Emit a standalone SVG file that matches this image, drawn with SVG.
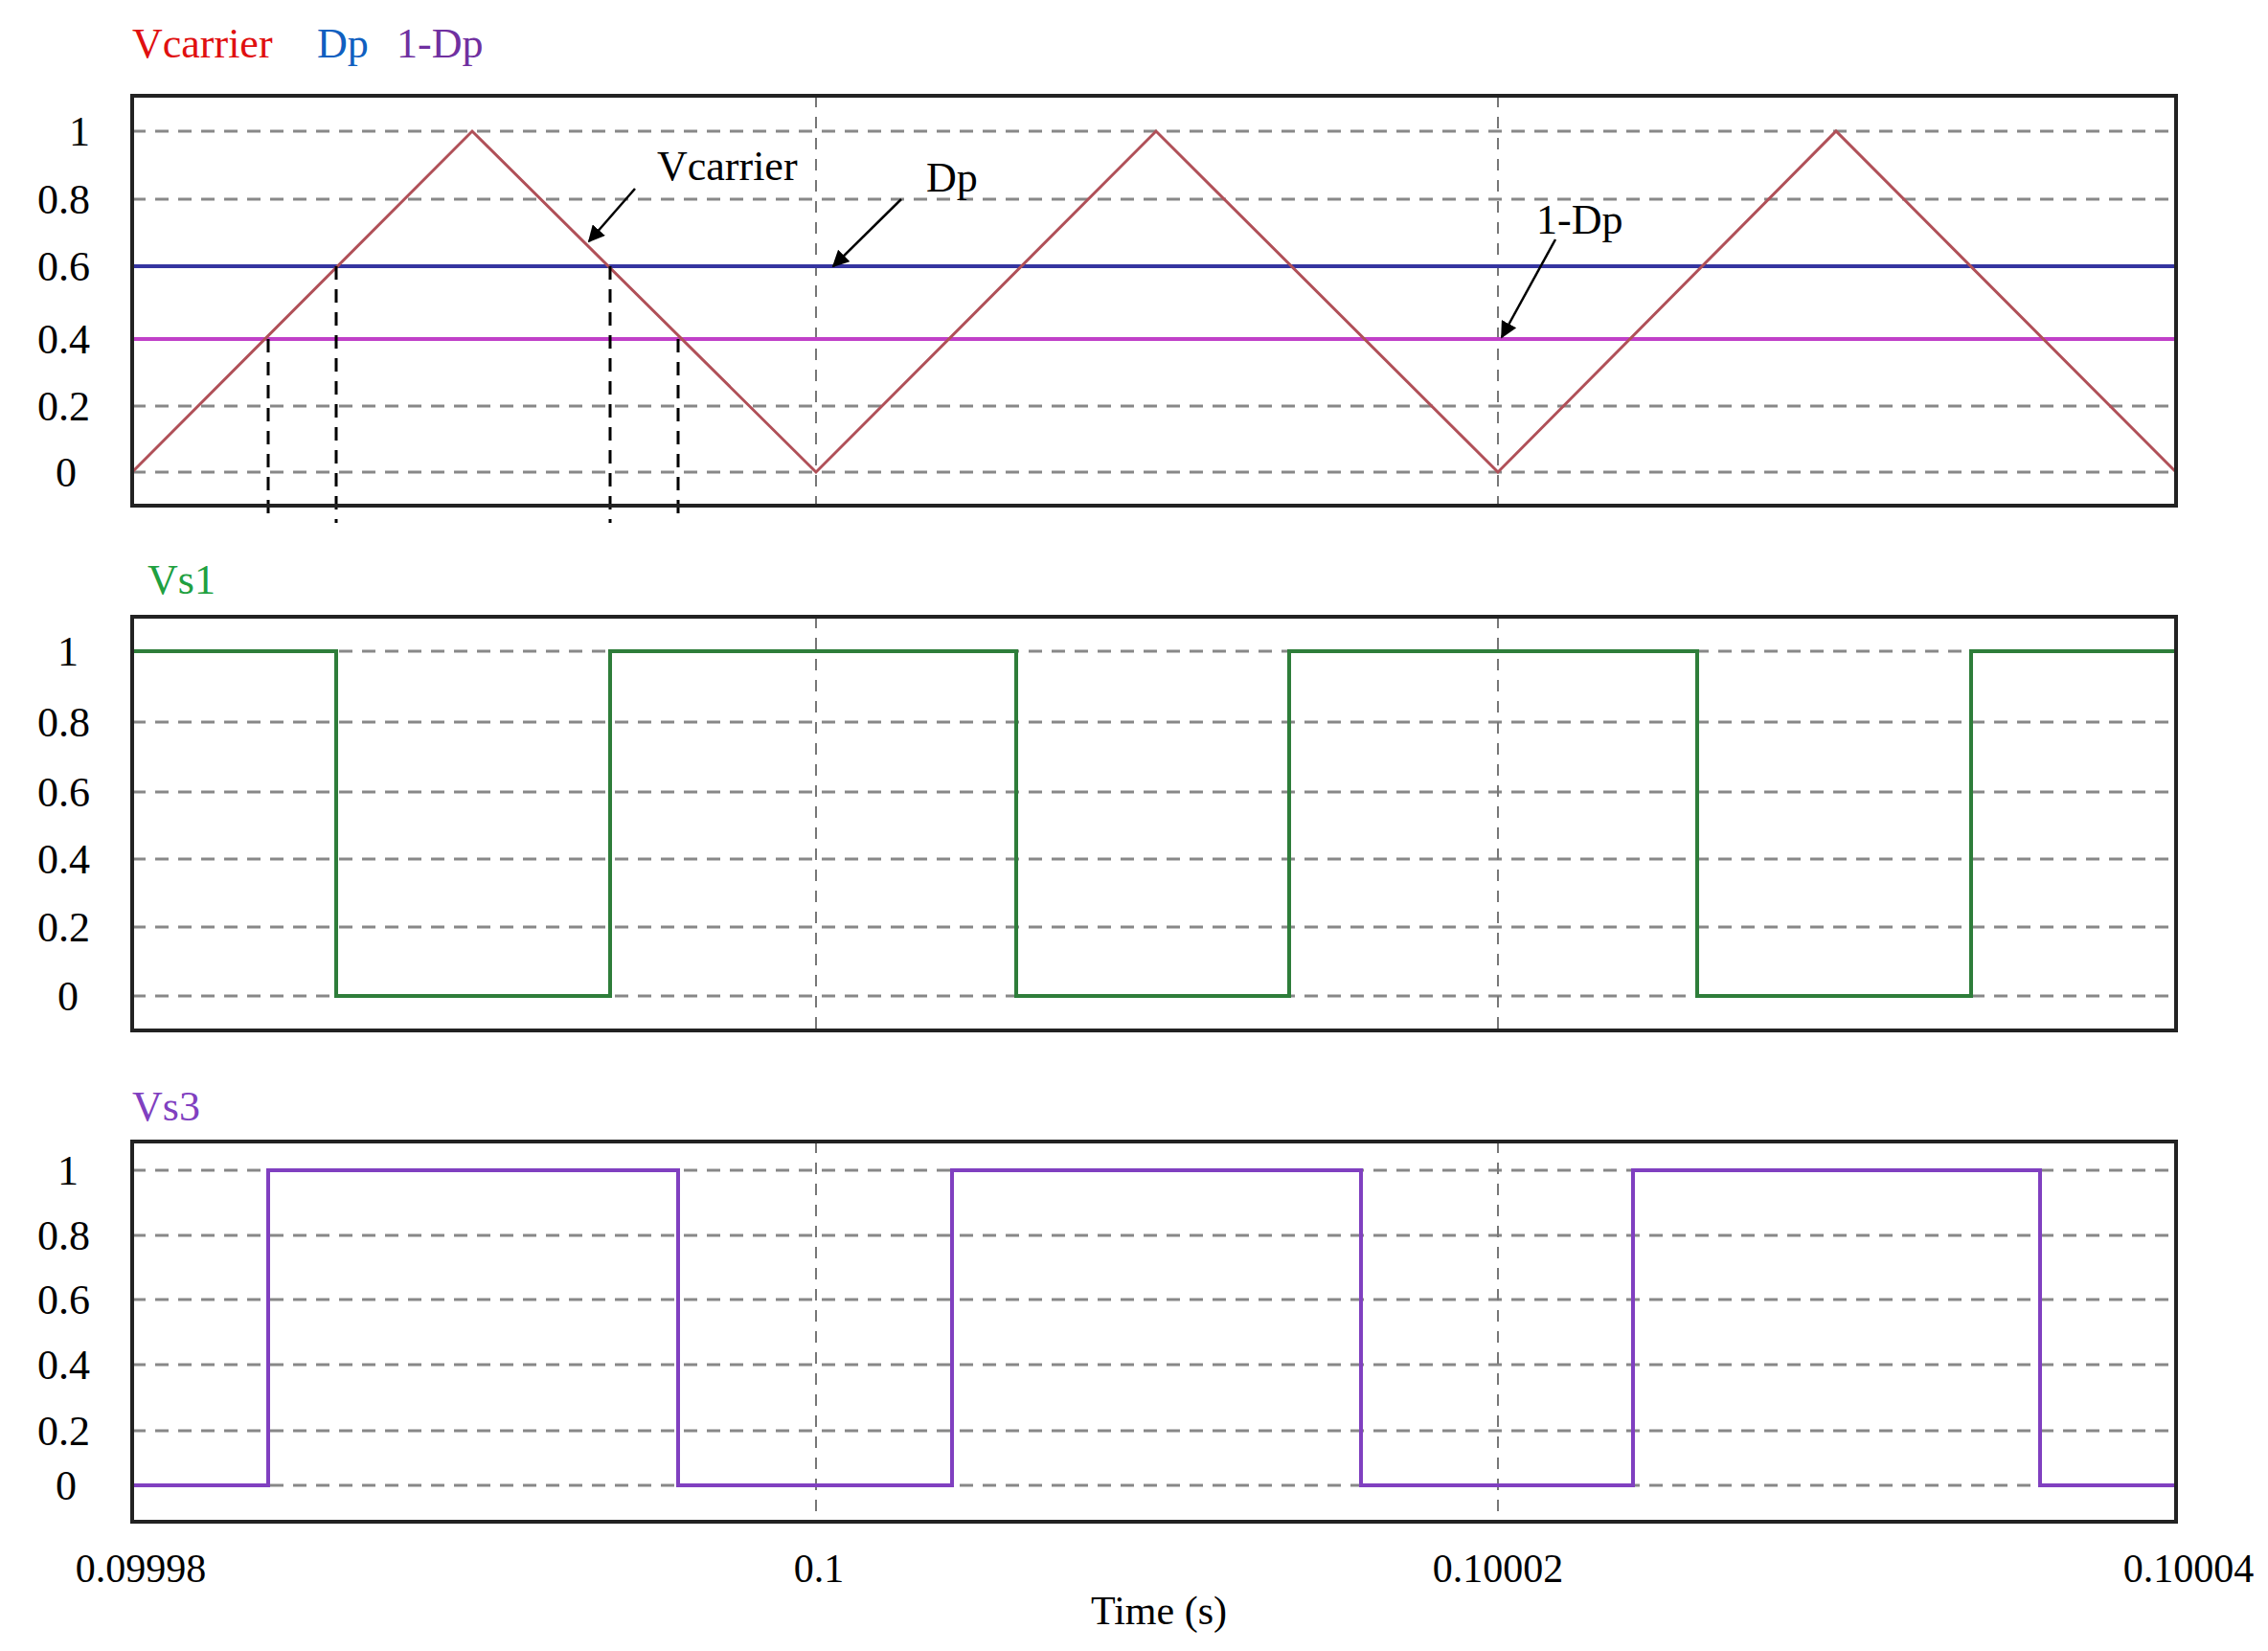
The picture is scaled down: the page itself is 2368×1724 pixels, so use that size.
<svg xmlns="http://www.w3.org/2000/svg" width="2368" height="1724" viewBox="0 0 2368 1724">
<style>
text{font-family:"Liberation Serif",serif;}
.yl{font-size:44px;text-anchor:end;fill:#000}
.xl{font-size:42px;text-anchor:middle;fill:#000}
.frame{fill:none;stroke:#222;stroke-width:4}
.grid{stroke:#888;stroke-width:3;stroke-dasharray:14 10;fill:none}
.vgrid{stroke:#777;stroke-width:2;stroke-dasharray:12 10;fill:none}
.drop{stroke:#000;stroke-width:3;stroke-dasharray:14 10;fill:none}
.ann{stroke:#000;stroke-width:2.5;fill:none;marker-end:url(#ah)}
</style>
<defs><marker id="ah" viewBox="0 0 10 10" refX="9" refY="5" markerWidth="7" markerHeight="7" orient="auto"><path d="M0,0 L10,5 L0,10 z" fill="#000"/></marker></defs>
<rect width="2368" height="1724" fill="#fff"/>
<g id="legend">
<text x="138" y="60" font-size="44" fill="#e01010">Vcarrier</text>
<text x="331" y="60" font-size="44" fill="#1060c0">Dp</text>
<text x="414" y="60" font-size="44" fill="#7030a0">1-Dp</text>
<text x="154" y="620" font-size="44" fill="#20a040">Vs1</text>
<text x="138" y="1170" font-size="44" fill="#8040c0">Vs3</text>
</g>
<g id="panel1">
<path class="grid" d="M138 137H2272M138 208H2272M138 278H2272M138 354H2272M138 424H2272M138 493H2272"/>
<path class="vgrid" d="M852 100V528M1564 100V528"/>
<path d="M138 278H2272" stroke="#3535a0" stroke-width="4"/>
<path d="M138 354H2272" stroke="#c040c8" stroke-width="4"/>
<path d="M138 493L493 137L852 493L1207 137L1564 493L1917 137L2272 493" fill="none" stroke="#b05058" stroke-width="3"/>
<path class="drop" d="M280 354V546M351 278V546M637 278V546M708 354V546"/>
<rect class="frame" x="138" y="100" width="2134" height="428"/>
<text class="yl" x="94" y="152">1</text><text class="yl" x="94" y="223">0.8</text><text class="yl" x="94" y="293">0.6</text><text class="yl" x="94" y="369">0.4</text><text class="yl" x="94" y="439">0.2</text><text class="yl" x="80" y="508">0</text>
</g>
<g id="annotations">
<text x="686" y="188" font-size="44">Vcarrier</text>
<text x="967" y="200" font-size="44">Dp</text>
<text x="1604" y="244" font-size="44">1-Dp</text>
<path class="ann" d="M663 197L615 252"/>
<path class="ann" d="M941 208L870 278"/>
<path class="ann" d="M1624 250L1568 352"/>
</g>
<g id="panel2">
<path class="grid" d="M138 680H2272M138 754H2272M138 827H2272M138 897H2272M138 968H2272M138 1040H2272"/>
<path class="vgrid" d="M852 644V1076M1564 644V1076"/>
<path d="M138 680H351V1040H637V680H1061V1040H1346V680H1772V1040H2058V680H2272" fill="none" stroke="#2e7d3a" stroke-width="4"/>
<rect class="frame" x="138" y="644" width="2134" height="432"/>
<text class="yl" x="82" y="695">1</text><text class="yl" x="94" y="769">0.8</text><text class="yl" x="94" y="842">0.6</text><text class="yl" x="94" y="912">0.4</text><text class="yl" x="94" y="983">0.2</text><text class="yl" x="82" y="1055">0</text>
</g>
<g id="panel3">
<path class="grid" d="M138 1222H2272M138 1290H2272M138 1357H2272M138 1425H2272M138 1494H2272M138 1551H2272"/>
<path class="vgrid" d="M852 1192V1589M1564 1192V1589"/>
<path d="M138 1551H280V1222H708V1551H994V1222H1421V1551H1705V1222H2130V1551H2272" fill="none" stroke="#8040c0" stroke-width="4"/>
<rect class="frame" x="138" y="1192" width="2134" height="397"/>
<text class="yl" x="82" y="1237">1</text><text class="yl" x="94" y="1305">0.8</text><text class="yl" x="94" y="1372">0.6</text><text class="yl" x="94" y="1440">0.4</text><text class="yl" x="94" y="1509">0.2</text><text class="yl" x="80" y="1566">0</text>
</g>
<g id="xaxis">
<text class="xl" x="147" y="1652">0.09998</text>
<text class="xl" x="855" y="1652">0.1</text>
<text class="xl" x="1564" y="1652">0.10002</text>
<text class="xl" x="2285" y="1652">0.10004</text>
<text class="xl" x="1210" y="1696" font-size="44">Time (s)</text>
</g>
</svg>
